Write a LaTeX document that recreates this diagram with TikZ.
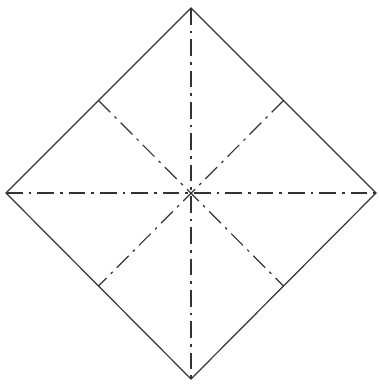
\documentclass[tikz,border=0pt]{standalone}
\usetikzlibrary{calc}
\begin{document}
\begin{tikzpicture}[x=0.75pt,y=-0.75pt,
  edge/.style={draw=black!80,line width=0.9pt,line join=miter},
  fold/.style={draw=black!80,line width=0.9pt,dash pattern=on 12.5pt off 4.5pt on 2pt off 4.5pt}]
\useasboundingbox (0,0) rectangle (378,384);
\coordinate (T) at (191,8);
\coordinate (B) at (191,379);
\coordinate (L) at (6,193);
\coordinate (R) at (376,193);
\coordinate (C) at (191,193);
\coordinate (TL) at ($(T)!0.5!(L)$);
\coordinate (TR) at ($(T)!0.5!(R)$);
\coordinate (BL) at ($(B)!0.5!(L)$);
\coordinate (BR) at ($(B)!0.5!(R)$);
\draw[fold] (T) -- (B);
\draw[fold] (L) -- (R);
\draw[fold] (TL) -- (BR);
\draw[fold] (TR) -- (BL);
\draw[edge] (T) -- (R) -- (B) -- (L) -- cycle;
\end{tikzpicture}
\end{document}
